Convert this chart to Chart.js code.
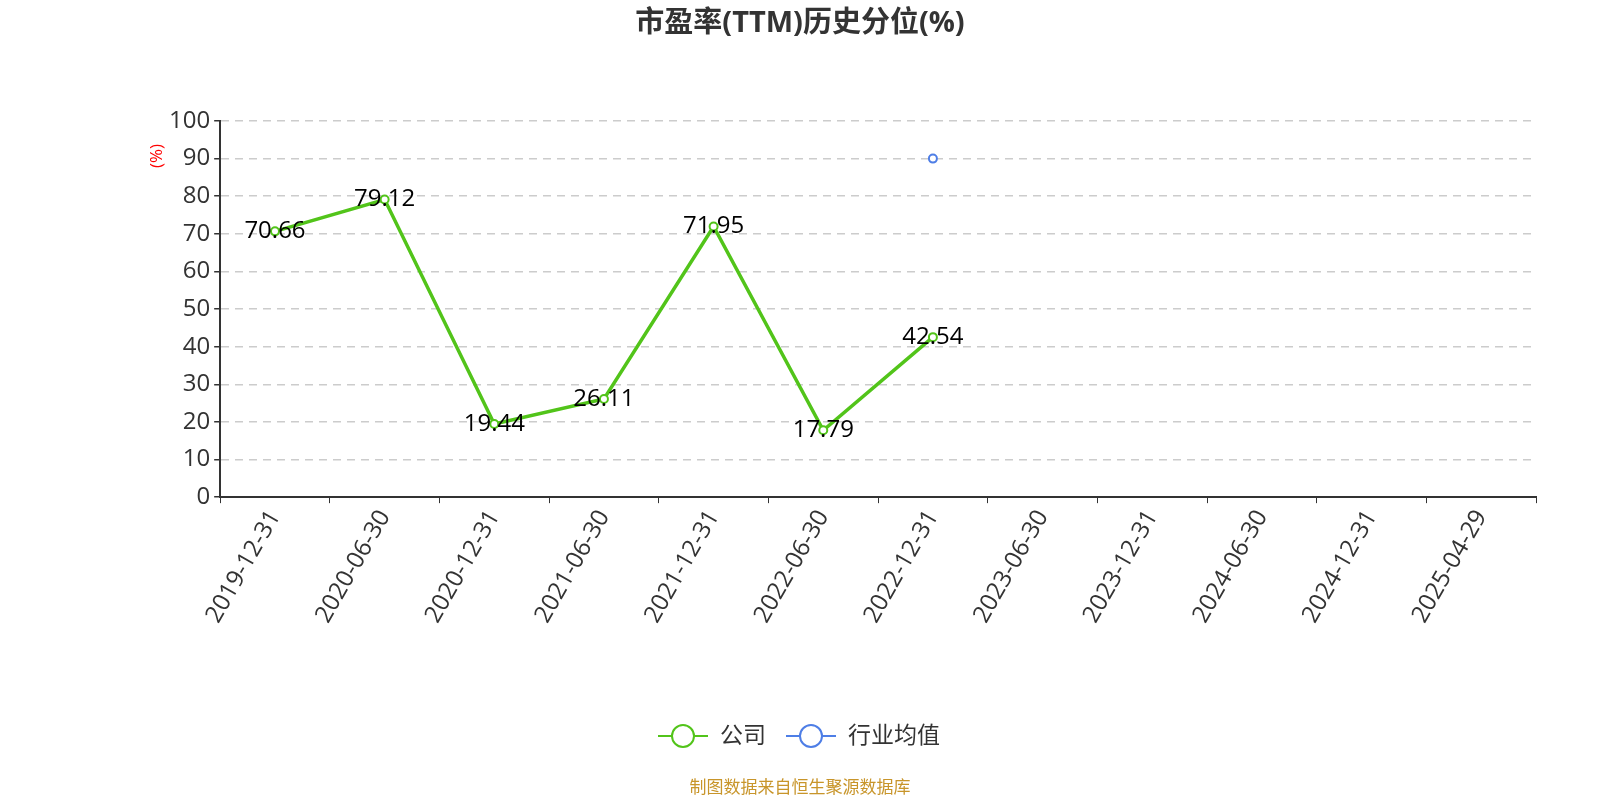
<!DOCTYPE html>
<html lang="zh">
<head>
    <meta charset="UTF-8">
    <title>市盈率(TTM)历史分位(%)</title>
    <style>
        html, body { margin: 0; padding: 0; background: #fff; }
        #wrap { width: 1600px; height: 800px; position: relative; }
    </style>
    <script src="https://cdn.jsdelivr.net/npm/chart.js"></script>
</head>
<body>
    <div id="wrap"><canvas id="peChart" width="1600" height="800"></canvas></div>

    <script>
        // data
        const dates = ['2019-12-31', '2020-06-30', '2020-12-31', '2021-06-30', '2021-12-31', '2022-06-30',
                       '2022-12-31', '2023-06-30', '2023-12-31', '2024-06-30', '2024-12-31', '2025-04-29'];
        const companyValues = [70.66, 79.12, 19.44, 26.11, 71.95, 17.79, 42.54, null, null, null, null, null];
        const industryValues = [null, null, null, null, null, null, 90, null, null, null, null, null];
        const yTicks = [0, 10, 20, 30, 40, 50, 60, 70, 80, 90, 100];

        const FONT = '"Open Sans", "Noto Sans CJK SC", sans-serif';
        const GREEN = '#52c41a';
        const BLUE = '#4e7ee6';

        // values printed on top of the company points
        const valueLabels = {
            id: 'valueLabels',
            afterDatasetsDraw(chart) {
                const ctx = chart.ctx;
                const meta = chart.getDatasetMeta(0);
                ctx.save();
                ctx.font = '24px ' + FONT;
                ctx.fillStyle = '#000';
                ctx.textAlign = 'center';
                ctx.textBaseline = 'middle';
                meta.data.forEach((pt, i) => {
                    const v = companyValues[i];
                    if (v == null) return;
                    ctx.fillText(v.toFixed(2), pt.x, pt.y);
                });
                ctx.restore();
            }
        };

        // title, axis unit, legend and source note
        const extras = {
            id: 'extras',
            afterDraw(chart) {
                const ctx = chart.ctx;
                const area = chart.chartArea;
                ctx.save();

                ctx.font = 'bold 29px ' + FONT;
                ctx.fillStyle = '#333';
                ctx.textAlign = 'center';
                ctx.textBaseline = 'middle';
                ctx.fillText('市盈率(TTM)历史分位(%)', 800, 24);

                ctx.save();
                ctx.translate(157, area.top + 35);
                ctx.rotate(-Math.PI / 2);
                ctx.font = '17px ' + FONT;
                ctx.fillStyle = '#ff0000';
                ctx.fillText('(%)', 0, 0);
                ctx.restore();

                const items = [
                    { label: '公司', color: GREEN },
                    { label: '行业均值', color: BLUE }
                ];
                ctx.font = '23px ' + FONT;
                let x = 658;
                const y = 736;
                items.forEach(it => {
                    ctx.strokeStyle = it.color;
                    ctx.lineWidth = 2;
                    ctx.beginPath();
                    ctx.moveTo(x, y);
                    ctx.lineTo(x + 50, y);
                    ctx.stroke();
                    ctx.beginPath();
                    ctx.arc(x + 25, y, 11, 0, Math.PI * 2);
                    ctx.fillStyle = '#fff';
                    ctx.fill();
                    ctx.stroke();
                    ctx.fillStyle = '#333';
                    ctx.textAlign = 'left';
                    ctx.fillText(it.label, x + 62, y);
                    x += 62 + ctx.measureText(it.label).width + 20;
                });

                ctx.font = '17px ' + FONT;
                ctx.fillStyle = '#c8952a';
                ctx.textAlign = 'center';
                ctx.fillText('制图数据来自恒生聚源数据库', 800, 788);
                ctx.restore();
            }
        };

        new Chart(document.getElementById('peChart'), {
            type: 'line',
            data: {
                labels: dates,
                datasets: [{
                    label: '公司',
                    data: companyValues,
                    borderColor: GREEN,
                    backgroundColor: '#fff',
                    borderWidth: 3.5,
                    pointRadius: 4,
                    pointBorderWidth: 2,
                    pointBackgroundColor: '#fff',
                    pointBorderColor: GREEN,
                    tension: 0
                }, {
                    label: '行业均值',
                    data: industryValues,
                    borderColor: BLUE,
                    backgroundColor: '#fff',
                    borderWidth: 2,
                    pointRadius: 4,
                    pointBorderWidth: 2,
                    pointBackgroundColor: '#fff',
                    pointBorderColor: BLUE
                }]
            },
            options: {
                responsive: false,
                animation: false,
                layout: { padding: { left: 165, right: 64, top: 121, bottom: 170 } },
                plugins: {
                    legend: { display: false },
                    title: { display: false },
                    tooltip: { enabled: false }
                },
                scales: {
                    x: {
                        offset: true,
                        grid: {
                            display: true,
                            drawOnChartArea: false,
                            drawTicks: true,
                            tickLength: 6,
                            color: '#333',
                            offset: true
                        },
                        border: { color: '#333', width: 2 },
                        ticks: {
                            color: '#333',
                            font: { size: 24, family: FONT },
                            minRotation: 60,
                            maxRotation: 60,
                            autoSkip: false,
                            padding: 2
                        }
                    },
                    y: {
                        min: 0,
                        max: 100,
                        afterBuildTicks(scale) {
                            scale.ticks = yTicks.map(v => ({ value: v }));
                        },
                        grid: {
                            color: ctx => ctx.tick && ctx.tick.value === 0 ? 'rgba(0,0,0,0)' : '#cccccc',
                            tickColor: '#333',
                            tickLength: 6,
                            lineWidth: 1.5
                        },
                        border: { color: '#333', width: 2, dash: [8, 6] },
                        ticks: {
                            color: '#333',
                            font: { size: 24, family: FONT },
                            padding: 4
                        }
                    }
                }
            },
            plugins: [valueLabels, extras]
        });
    </script>
</body>
</html>
